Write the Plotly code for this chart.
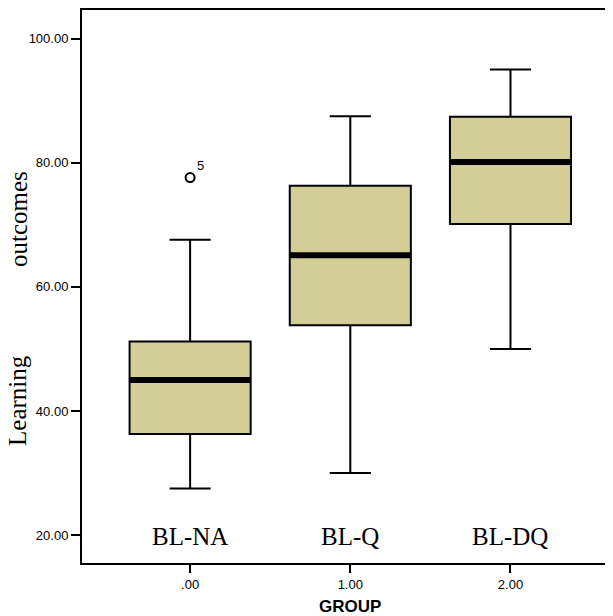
import plotly.graph_objects as go

groups = [0.0, 1.0, 2.0]
group_names = ["BL-NA", "BL-Q", "BL-DQ"]
lower_whisker = [27.5, 30.0, 50.0]
q1 = [36.3, 53.8, 70.1]
median = [45.0, 65.1, 80.1]
q3 = [51.2, 76.3, 87.4]
upper_whisker = [67.6, 87.5, 95.0]
outlier_x = [0.0]
outlier_y = [77.6]
outlier_labels = ["5"]
x_ticks = [0.0, 1.0, 2.0]
x_ticklabels = [".00", "1.00", "2.00"]
y_ticks = [20, 40, 60, 80, 100]
y_ticklabels = ["20.00", "40.00", "60.00", "80.00", "100.00"]

BOX_W = 0.756
fill = "#D3CE98"
serif = "Liberation Serif, Times New Roman, serif"
sans = "Liberation Sans, Arial, sans-serif"

fig = go.Figure()
for i, g in enumerate(groups):
    fig.add_trace(go.Box(
        x=[g], q1=[q1[i]], median=[median[i]], q3=[q3[i]],
        lowerfence=[lower_whisker[i]], upperfence=[upper_whisker[i]],
        width=BOX_W, whiskerwidth=0.34, boxpoints=False,
        fillcolor=fill, line=dict(color="black", width=2),
        showlegend=False, hoverinfo="skip"))
    fig.add_trace(go.Scatter(
        x=[g - BOX_W / 2, g + BOX_W / 2], y=[median[i], median[i]],
        mode="lines", line=dict(color="black", width=6),
        showlegend=False, hoverinfo="skip"))

fig.add_trace(go.Scatter(
    x=outlier_x, y=outlier_y, mode="markers",
    marker=dict(symbol="circle-open", size=9, color="black", line=dict(width=2)),
    showlegend=False, hoverinfo="skip"))
for x, y, t in zip(outlier_x, outlier_y, outlier_labels):
    fig.add_annotation(x=x, y=y, text=t, showarrow=False, xshift=10, yshift=12,
                       font=dict(family=sans, size=13, color="black"))

for g, name in zip(groups, group_names):
    fig.add_annotation(x=g, y=20, text=name, showarrow=False, yshift=-1,
                       xanchor="center", yanchor="middle",
                       font=dict(family=serif, size=25, color="black"))

fig.add_annotation(xref="paper", yref="paper", x=-0.1205, y=0.293, text="Learning",
                   textangle=-90, showarrow=False, xanchor="center", yanchor="middle",
                   font=dict(family=serif, size=25, color="black"))
fig.add_annotation(xref="paper", yref="paper", x=-0.1205, y=0.622, text="outcomes",
                   textangle=-90, showarrow=False, xanchor="center", yanchor="middle",
                   font=dict(family=serif, size=25, color="black"))
fig.add_annotation(xref="x", yref="paper", x=1.0, y=-0.078, text="<b>GROUP</b>",
                   showarrow=False, xanchor="center", yanchor="middle",
                   font=dict(family=sans, size=17, color="black"))

fig.update_layout(
    width=605, height=608,
    margin=dict(l=74, r=0, t=2, b=53),
    plot_bgcolor="white", paper_bgcolor="white",
    xaxis=dict(range=[-0.675, 2.64], tickvals=x_ticks, ticktext=x_ticklabels,
               showgrid=False, zeroline=False, showline=True, linecolor="black",
               linewidth=2, mirror=True, ticks="outside", ticklen=8, tickwidth=2,
               tickcolor="black",
               tickfont=dict(family=sans, size=13, color="black")),
    yaxis=dict(range=[15.5, 104.6], tickvals=y_ticks, ticktext=y_ticklabels,
               showgrid=False, zeroline=False, showline=True, linecolor="black",
               linewidth=2, ticks="outside", ticklen=9, tickwidth=2, tickcolor="black",
               tickfont=dict(family=sans, size=13, color="black")),
)

fig.write_html("out.html")
